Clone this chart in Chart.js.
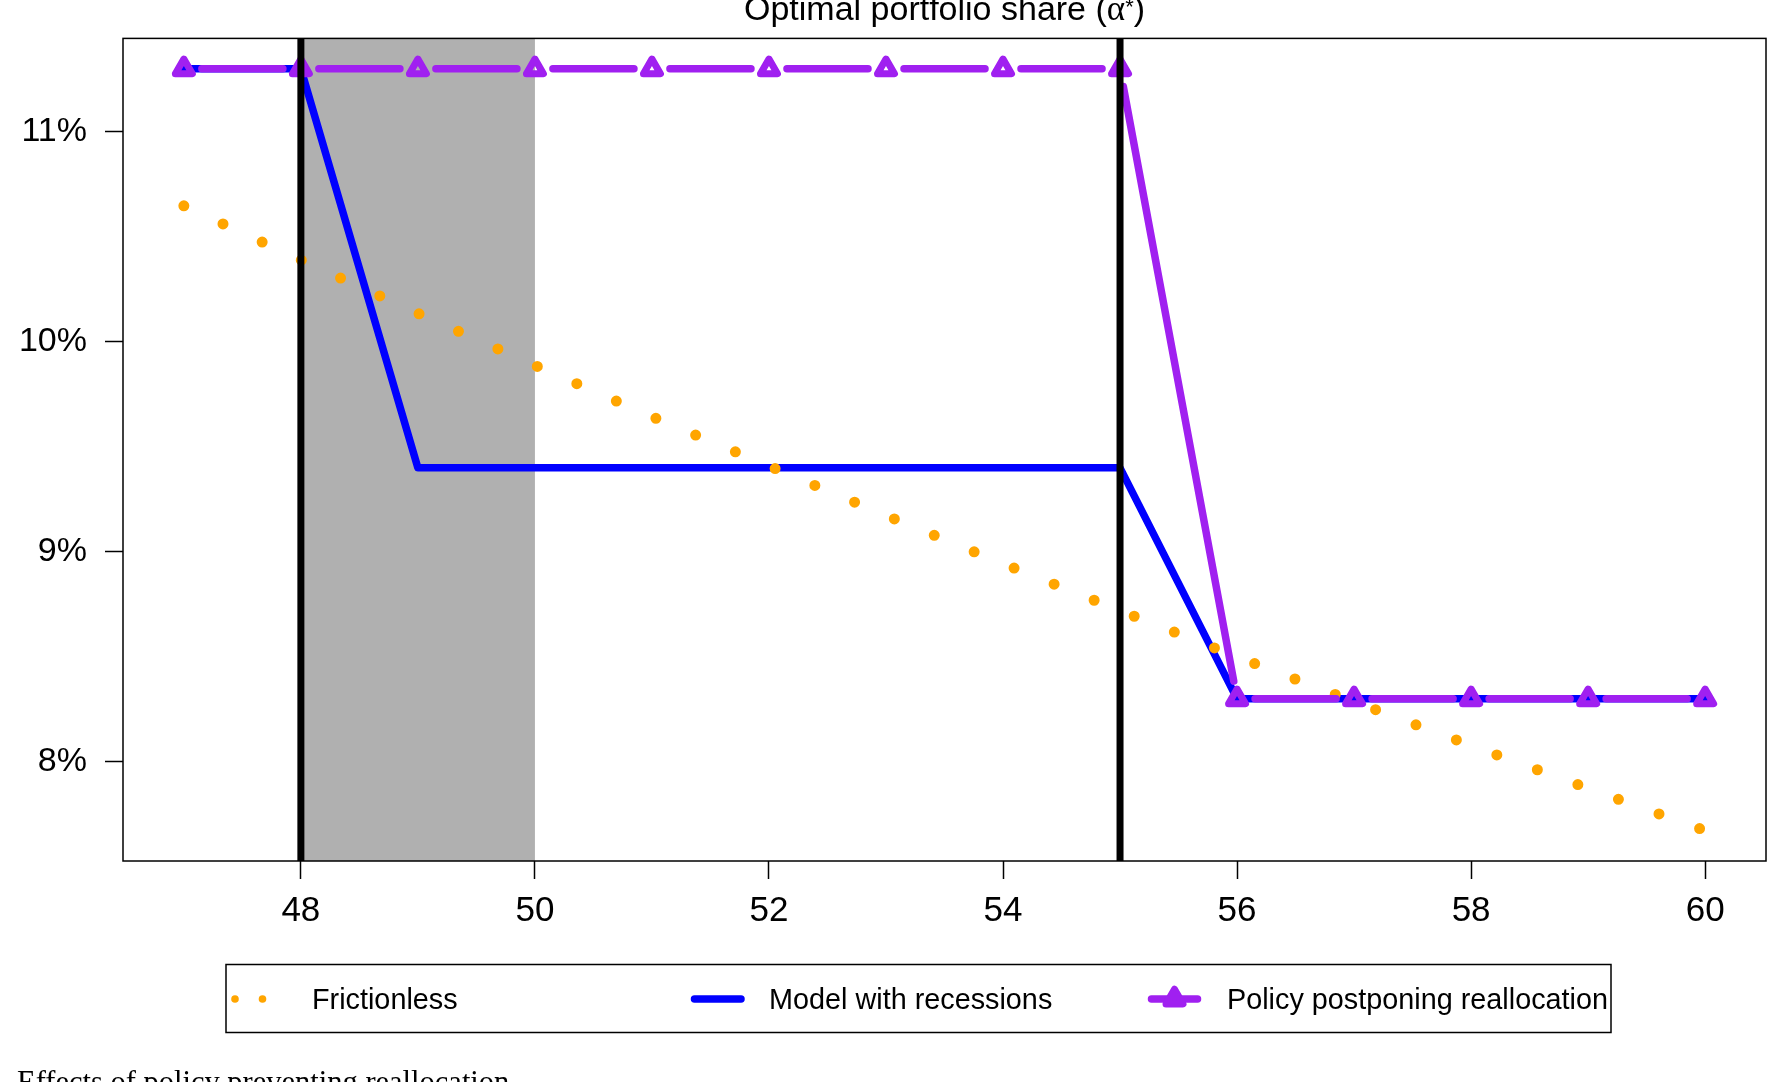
<!DOCTYPE html>
<html>
<head>
<meta charset="utf-8">
<script src="https://cdn.jsdelivr.net/npm/chart.js@4.4.1/dist/chart.umd.min.js"></script>
<style>
  html, body { margin: 0; padding: 0; background: #fff; overflow: hidden; }
  canvas { display: block; }
</style>
</head>
<body>
<canvas id="chart-portfolio" width="1783" height="1082"></canvas>
<script>
// Datos (edad en años, participación en %)
const ages = [47, 48, 49, 50, 51, 52, 53, 54, 55, 56, 57, 58, 59, 60];
const frictionless = [10.648, 10.390, 10.136, 9.888, 9.644, 9.409, 9.173, 8.944, 8.720, 8.500, 8.287, 8.078, 7.874, 7.673];
const modelRecessions = [11.3, 11.3, 9.4, 9.4, 9.4, 9.4, 9.4, 9.4, 9.4, 8.3, 8.3, 8.3, 8.3, 8.3];
const policyPostponing = [11.3, 11.3, 11.3, 11.3, 11.3, 11.3, 11.3, 11.3, 11.3, 8.3, 8.3, 8.3, 8.3, 8.3];

const seriesLabels = ['Frictionless', 'Model with recessions', 'Policy postponing reallocation'];
const recessionShade = [48, 50];     // banda gris
const markerAges = [48, 55];         // líneas verticales negras
const xTicks = [48, 50, 52, 54, 56, 58, 60];
const yTicks = [8, 9, 10, 11];
const yTickLabels = ['8%', '9%', '10%', '11%'];
const titleParts = ['Optimal portfolio share (', 'α', '*', ')'];
const caption = 'Effects of policy preventing reallocation';

const SANS = "'Liberation Sans', Arial, Helvetica, sans-serif";
const SERIF = "'Liberation Serif', 'Times New Roman', serif";
const ORANGE = '#FFA500';
const BLUE = '#0000FF';
const PURPLE = '#A020F0';
const TRI_R = 9.8;
const TRI_W = 7;

Chart.defaults.color = '#000';
Chart.defaults.font.family = SANS;

const toPoints = ys => ages.map((a, i) => ({ x: a, y: ys[i] }));

// banda de recesión y marco
const shadePlugin = {
  id: 'shade',
  beforeDatasetsDraw(chart) {
    const { ctx, chartArea: a, scales: { x } } = chart;
    const x0 = x.getPixelForValue(recessionShade[0]);
    const x1 = x.getPixelForValue(recessionShade[1]);
    ctx.save();
    ctx.fillStyle = '#B0B0B0';
    ctx.fillRect(x0, a.top, x1 - x0, a.bottom - a.top);
    ctx.restore();
  },
  afterDatasetsDraw(chart) {
    const { ctx, chartArea: a, scales: { x } } = chart;
    ctx.save();
    ctx.strokeStyle = '#000';
    ctx.lineWidth = 7;
    markerAges.forEach(age => {
      const px = x.getPixelForValue(age);
      ctx.beginPath();
      ctx.moveTo(px, a.top);
      ctx.lineTo(px, a.bottom);
      ctx.stroke();
    });
    ctx.lineWidth = 1.5;
    ctx.strokeRect(a.left, a.top, a.right - a.left, a.bottom - a.top);
    ctx.restore();
  }
};

// línea con huecos alrededor de los puntos (como type = "b" en R)
const gappedLine = {
  id: 'gappedLine',
  beforeDatasetDraw(chart, args) {
    const ds = chart.data.datasets[args.index];
    if (!ds.gap) return;
    const ctx = chart.ctx;
    const pts = args.meta.data;
    ctx.save();
    ctx.strokeStyle = ds.borderColor;
    ctx.lineWidth = ds.borderWidth;
    ctx.lineCap = 'round';
    ctx.beginPath();
    for (let i = 0; i < pts.length - 1; i++) {
      const p = pts[i], q = pts[i + 1];
      const dx = q.x - p.x, dy = q.y - p.y;
      const len = Math.hypot(dx, dy);
      if (len <= 2 * ds.gap) continue;
      const ux = dx / len, uy = dy / len;
      ctx.moveTo(p.x + ux * ds.gap, p.y + uy * ds.gap);
      ctx.lineTo(q.x - ux * ds.gap, q.y - uy * ds.gap);
    }
    ctx.stroke();
    ctx.restore();
    ctx.lineJoin = 'round'; // esquinas redondeadas para los triángulos
  },
  afterDatasetDraw(chart, args) {
    if (chart.data.datasets[args.index].gap) chart.ctx.lineJoin = 'miter';
  }
};

function drawTriangle(ctx, cx, cy, r) {
  ctx.beginPath();
  for (let k = 0; k < 3; k++) {
    const ang = k * 2 * Math.PI / 3;
    const px = cx + Math.sin(ang) * r, py = cy - Math.cos(ang) * r;
    if (k === 0) ctx.moveTo(px, py); else ctx.lineTo(px, py);
  }
  ctx.closePath();
  ctx.stroke();
}

// título, leyenda y pie de figura
const annotations = {
  id: 'annotations',
  afterDraw(chart) {
    const { ctx, chartArea: a } = chart;
    ctx.save();
    ctx.fillStyle = '#000';
    ctx.textBaseline = 'alphabetic';

    // título
    const fonts = ['34px ' + SANS, '35px ' + SERIF, '22px ' + SANS, '34px ' + SANS];
    const lifts = [0, 0, 6, 0];
    const widths = titleParts.map((t, i) => { ctx.font = fonts[i]; return ctx.measureText(t).width; });
    let tx = (a.left + a.right) / 2 - widths.reduce((s, w) => s + w, 0) / 2;
    titleParts.forEach((t, i) => {
      ctx.font = fonts[i];
      ctx.fillText(t, tx, 20 - lifts[i]);
      tx += widths[i];
    });

    // leyenda
    const ly = 999;
    ctx.strokeStyle = '#000';
    ctx.lineWidth = 1.5;
    ctx.strokeRect(226, 964.5, 1385, 68);
    ctx.font = '28.8px ' + SANS;
    ctx.fillText(seriesLabels[0], 312, 1009);
    ctx.fillText(seriesLabels[1], 769, 1009);
    ctx.fillText(seriesLabels[2], 1227, 1009);

    ctx.fillStyle = ORANGE;
    [235, 262.5].forEach(dx => {
      ctx.beginPath();
      ctx.arc(dx, ly, 3.8, 0, 2 * Math.PI);
      ctx.fill();
    });

    ctx.lineCap = 'round';
    ctx.lineWidth = 7.5;
    ctx.strokeStyle = BLUE;
    ctx.beginPath();
    ctx.moveTo(694.5, ly);
    ctx.lineTo(741, ly);
    ctx.stroke();

    ctx.strokeStyle = PURPLE;
    ctx.beginPath();
    ctx.moveTo(1151.5, ly);
    ctx.lineTo(1197.5, ly);
    ctx.stroke();
    ctx.lineWidth = TRI_W;
    ctx.lineJoin = 'round';
    drawTriangle(ctx, 1174.5, ly, TRI_R);

    // pie de figura (cortado por el borde inferior)
    ctx.fillStyle = '#000';
    ctx.font = '30.5px ' + SERIF;
    ctx.fillText(caption, 17, 1092);
    ctx.restore();
  }
};

new Chart(document.getElementById('chart-portfolio'), {
  type: 'line',
  data: {
    datasets: [
      {
        label: seriesLabels[0],
        data: toPoints(frictionless),
        borderColor: ORANGE,
        borderWidth: 11,
        borderDash: [0, 43.14],
        borderCapStyle: 'round',
        pointRadius: 0,
        order: 2
      },
      {
        label: seriesLabels[1],
        data: toPoints(modelRecessions),
        borderColor: BLUE,
        borderWidth: 7.5,
        borderCapStyle: 'round',
        borderJoinStyle: 'round',
        pointRadius: 0,
        order: 3
      },
      {
        label: seriesLabels[2],
        data: toPoints(policyPostponing),
        borderColor: PURPLE,
        borderWidth: 7.5,
        showLine: false,
        gap: 18,
        pointStyle: 'triangle',
        pointRadius: TRI_R,
        pointBorderWidth: TRI_W,
        pointBorderColor: PURPLE,
        pointBackgroundColor: 'rgba(0,0,0,0)',
        order: 1
      }
    ]
  },
  options: {
    responsive: false,
    animation: false,
    devicePixelRatio: 1,
    layout: {
      padding: { left: 0, top: 36, right: 17, bottom: 161 }
    },
    plugins: {
      legend: { display: false },
      title: { display: false },
      tooltip: { enabled: false }
    },
    scales: {
      x: {
        type: 'linear',
        min: 46.48,
        max: 60.52,
        afterFit: s => { s.height = 60; },
        afterBuildTicks: s => { s.ticks = xTicks.map(v => ({ value: v })); },
        border: { display: false },
        grid: { drawOnChartArea: false, tickLength: 18, tickWidth: 1.5, tickColor: '#000' },
        ticks: { font: { size: 35 }, padding: 11, maxRotation: 0, autoSkip: false, color: '#000' }
      },
      y: {
        type: 'linear',
        min: 7.528,
        max: 11.445,
        afterFit: s => { s.width = 123; },
        afterBuildTicks: s => { s.ticks = yTicks.map(v => ({ value: v })); },
        border: { display: false },
        grid: { drawOnChartArea: false, tickLength: 18, tickWidth: 1.5, tickColor: '#000' },
        ticks: {
          font: { size: 34 },
          padding: 18,
          color: '#000',
          callback: v => yTickLabels[yTicks.indexOf(v)]
        }
      }
    }
  },
  plugins: [shadePlugin, gappedLine, annotations]
});
</script>
</body>
</html>
